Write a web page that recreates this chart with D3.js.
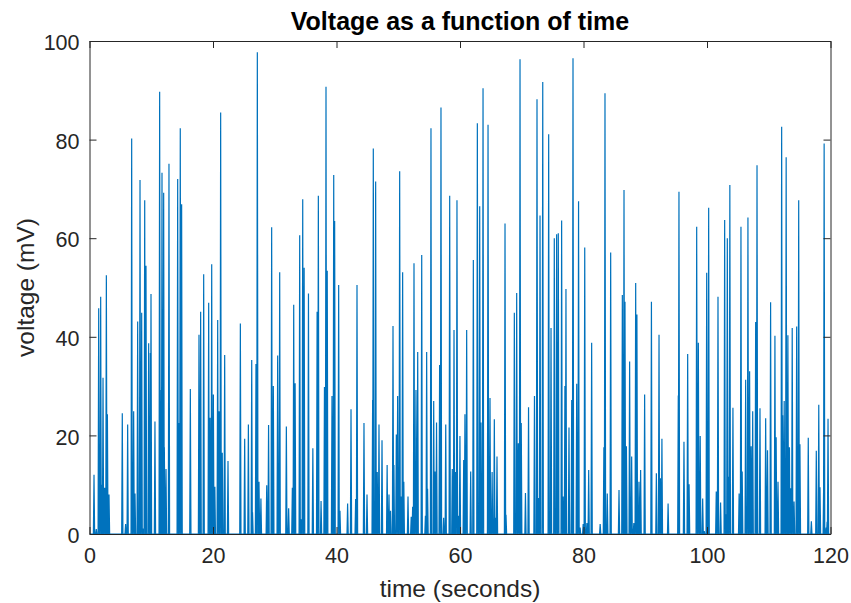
<!DOCTYPE html>
<html>
<head>
<meta charset="utf-8">
<script src="https://cdn.jsdelivr.net/npm/d3@7"></script>
<style>
  body { margin: 0; background: #fff; }
  svg { display: block; font-family: "Liberation Sans", Arial, sans-serif; }
</style>
</head>
<body>
<div id="chart"></div>
<script>
// spike times (s) and peak voltages (mV)
const spikeTimes = [
  0.73, 1.1, 1.49, 1.81, 2.05, 2.19, 2.45, 2.73, 2.9, 3.16,
  5.31, 5.85, 6.18, 6.83, 7.15, 7.37, 7.8, 8.18, 8.45, 8.7, 8.94, 9.15, 9.58, 9.85, 9.96,
  10.6, 11.36, 11.47, 11.74, 12.01, 12.12, 12.39, 12.87, 14.28, 14.5, 14.7, 14.92,
  16.33, 17.73, 18.0, 18.49, 19.3, 19.52, 19.79, 20.06, 20.3, 20.76, 20.97, 21.24, 21.5, 21.89, 22.43,
  24.43, 25.13, 25.73, 26.27, 26.4, 26.96, 27.18, 27.45, 27.76,
  28.7, 29.0, 29.5, 29.77, 30.47, 30.8, 31.88, 32.25, 32.85, 33.07, 33.3,
  34.04, 34.3, 34.53, 34.76, 35.46, 36.17, 36.86, 37.06, 37.5, 38.05, 38.3, 38.5, 39.27, 39.55, 39.7,
  40.35, 40.56, 41.8, 42.35, 43.1, 43.32, 44.45, 44.94, 45.85, 45.96, 46.34, 46.6, 46.88, 47.37,
  48.2, 48.5, 48.75, 49.15, 49.3, 49.69, 49.9, 50.23, 50.45, 50.71, 50.9,
  51.58, 52.1, 52.33, 52.55, 52.87, 53.15, 53.8, 54.4, 54.6, 54.75,
  55.3, 55.74, 55.95, 56.2, 56.7, 56.92, 57.35, 57.69, 58.33, 58.75, 59.03, 59.25, 59.51, 59.8, 59.99,
  60.6, 60.8, 61.08, 61.73, 62.16, 62.81, 63.19, 63.4, 63.73, 64.54, 64.86, 65.2, 65.56, 65.8, 65.99,
  67.29, 67.45, 68.8, 69.18, 69.45, 69.72, 69.85, 69.92, 70.6, 71.1,
  72.06, 72.47, 72.7, 72.96, 73.4, 74.36, 74.74, 75.27, 75.65, 75.92, 76.46, 76.7, 76.99, 77.16, 77.65,
  78.09, 78.3, 78.9, 79.2, 79.45, 79.95, 80.2, 80.55, 80.84,
  81.32, 82.7, 83.3, 83.48, 83.85, 84.4, 85.75, 86.29, 86.56, 86.72, 86.95, 87.47, 87.8, 88.15, 88.45, 88.65, 88.98, 89.25,
  89.9, 91.0, 91.8, 92.23, 92.45, 92.7, 93.7, 95.35, 95.46, 96.27, 96.87, 97.1,
  98.33, 98.6, 98.9, 99.3, 99.55, 99.95, 100.1, 100.27,
  101.5, 101.78, 102.2, 102.86, 103.1, 103.29, 103.45, 103.7, 104.2,
  105.2, 105.35, 105.5, 105.7, 106.26, 106.63, 106.9, 107.15, 107.4, 107.88, 108.1, 108.58,
  109.5, 109.8, 110.3, 111.0, 111.2, 111.5, 112.09, 112.25, 112.5, 112.82, 113.1, 113.35, 113.55, 113.8, 114.1,
  114.52, 114.85, 115.05, 116.4, 116.9, 117.7, 118.1, 118.3, 118.9, 118.97, 119.3, 119.45, 119.6
];
const spikeValues = [
  12.0, 1.0, 45.8, 48.1, 10.0, 31.7, 9.4, 52.5, 24.3, 8.0,
  24.5, 2.0, 22.2, 80.2, 24.9, 8.2, 43.1, 71.8, 44.9, 1.1, 67.7, 54.4, 38.7, 36.7, 48.7,
  22.8, 89.7, 29.2, 73.3, 69.2, 17.6, 13.2, 75.1, 72.0, 22.5, 82.3, 66.9,
  29.4, 40.4, 45.1, 52.7, 46.9, 23.6, 54.7, 28.3, 9.6, 43.4, 24.9, 85.5, 16.5, 36.3, 14.8,
  42.7, 19.3, 22.2, 35.3, 4.4, 34.5, 97.7, 10.6, 7.2,
  9.9, 22.1, 62.2, 30.0, 36.2, 53.1, 21.8, 5.2, 9.4, 46.5, 30.6,
  60.6, 3.0, 67.9, 54.0, 48.8, 17.4, 45.1, 68.6, 6.7, 29.8, 90.7, 53.4, 28.0, 72.8, 63.5,
  50.5, 4.7, 6.2, 25.3, 7.1, 50.5, 22.5, 8.0, 27.2, 78.2, 71.5, 12.6, 22.2, 19.0,
  14.0, 8.0, 4.7, 42.2, 14.0, 20.2, 28.0, 73.6, 7.6, 53.1, 10.6,
  7.6, 3.5, 5.5, 54.9, 29.2, 36.9, 56.6, 3.7, 36.9, 9.2,
  82.3, 27.0, 12.7, 22.6, 34.3, 86.5, 3.3, 22.2, 68.6, 13.2, 41.4, 12.6, 67.7, 3.7, 19.9,
  15.0, 24.3, 41.4, 12.7, 55.6, 83.3, 66.5, 22.6, 90.4, 83.0, 27.6, 12.6, 23.3, 3.3, 15.7,
  63.0, 3.9, 44.9, 48.9, 18.4, 96.3, 21.2, 22.5, 8.3, 25.7,
  28.0, 88.2, 7.3, 64.6, 91.7, 81.1, 41.8, 60.0, 60.8, 61.0, 63.6, 7.6, 30.0, 49.7, 21.6,
  27.2, 96.5, 30.5, 67.5, 1.3, 2.0, 58.1, 2.2, 13.0,
  38.8, 2.0, 17.6, 89.4, 8.2, 57.1, 8.9, 48.5, 69.8, 47.1, 17.8, 35.0, 15.7, 2.2, 50.9, 44.5, 10.6, 13.0,
  28.3, 47.1, 12.3, 40.4, 11.3, 19.3, 6.2, 28.1, 69.4, 18.7, 36.5, 10.1,
  62.3, 38.8, 19.9, 7.2, 0.6, 53.0, 17.8, 66.2,
  8.6, 48.1, 6.4, 63.7, 4.0, 60.0, 11.6, 70.8, 25.6,
  8.2, 6.7, 62.3, 12.7, 31.3, 64.2, 33.0, 17.8, 24.9, 43.0, 74.8, 25.5,
  23.5, 17.0, 47.0, 40.2, 19.6, 10.6, 82.6, 24.1, 27.0, 76.4, 40.3, 17.6, 9.3, 41.8, 6.6,
  42.1, 67.7, 18.2, 19.5, 2.6, 16.9, 26.2, 9.5, 10.8, 79.2, 1.3, 2.5, 23.4
];
const xTicks = [0, 20, 40, 60, 80, 100, 120];
const yTicks = [0, 20, 40, 60, 80, 100];

const W = 851, H = 603;
const margin = {left: 89.5, right: 20.5, top: 41, bottom: 69};

const svg = d3.select("#chart").append("svg")
  .attr("width", W).attr("height", H);

const x = d3.scaleLinear().domain([0, 120]).range([margin.left, W - margin.right]);
const y = d3.scaleLinear().domain([0, 100]).range([H - margin.bottom, margin.top]);

// build the trace: baseline at zero with a narrow spike at each event
const half = 0.1;
const trace = [[0, 0]];
spikeTimes.forEach((t, i) => {
  trace.push([t - half, 0], [t, spikeValues[i]], [t + half, 0]);
});
trace.push([120, 0]);

const line = d3.line().x(d => x(d[0])).y(d => y(d[1]));

svg.append("defs").append("clipPath").attr("id", "clip")
  .append("rect")
  .attr("x", x(0)).attr("y", y(100))
  .attr("width", x(120) - x(0)).attr("height", y(0) - y(100));

svg.append("path")
  .datum(trace)
  .attr("clip-path", "url(#clip)")
  .attr("fill", "none")
  .attr("stroke", "#0072BD")
  .attr("stroke-width", 1.2)
  .attr("d", line);

// axes, MATLAB style: ticks inward on all four sides
const axisColor = "#262626";
const tickLen = 7;

function styleAxis(g) {
  g.select(".domain").attr("stroke", axisColor).attr("stroke-width", 1);
  g.selectAll(".tick line").attr("stroke", axisColor).attr("stroke-width", 1);
  g.selectAll(".tick text").attr("fill", axisColor)
    .style("font-size", "21.5px")
    .style("font-family", "'Liberation Sans', Arial, sans-serif");
}

svg.append("g")
  .attr("transform", `translate(0,${y(0)})`)
  .call(d3.axisBottom(x).tickValues(xTicks).tickSizeInner(-tickLen).tickSizeOuter(0).tickPadding(14))
  .call(styleAxis);

svg.append("g")
  .attr("transform", `translate(0,${y(100)})`)
  .call(d3.axisTop(x).tickValues(xTicks).tickSizeInner(-tickLen).tickSizeOuter(0).tickFormat(""))
  .call(styleAxis);

svg.append("g")
  .attr("transform", `translate(${x(0)},0)`)
  .call(d3.axisLeft(y).tickValues(yTicks).tickSizeInner(-tickLen).tickSizeOuter(0).tickPadding(10))
  .call(styleAxis)
  .selectAll(".tick text").attr("dy", "0.4em");

svg.append("g")
  .attr("transform", `translate(${x(120)},0)`)
  .call(d3.axisRight(y).tickValues(yTicks).tickSizeInner(-tickLen).tickSizeOuter(0).tickFormat(""))
  .call(styleAxis);

// labels
svg.append("text")
  .attr("x", (x(0) + x(120)) / 2).attr("y", 30)
  .attr("text-anchor", "middle")
  .style("font-size", "25px").style("font-weight", "bold")
  .attr("fill", "#000")
  .text("Voltage as a function of time");

svg.append("text")
  .attr("x", (x(0) + x(120)) / 2).attr("y", 597)
  .attr("text-anchor", "middle")
  .style("font-size", "24.5px")
  .attr("fill", axisColor)
  .text("time (seconds)");

svg.append("text")
  .attr("transform", `translate(34,${(y(0) + y(100)) / 2}) rotate(-90)`)
  .attr("text-anchor", "middle")
  .style("font-size", "24.5px")
  .attr("fill", axisColor)
  .text("voltage (mV)");
</script>
</body>
</html>
